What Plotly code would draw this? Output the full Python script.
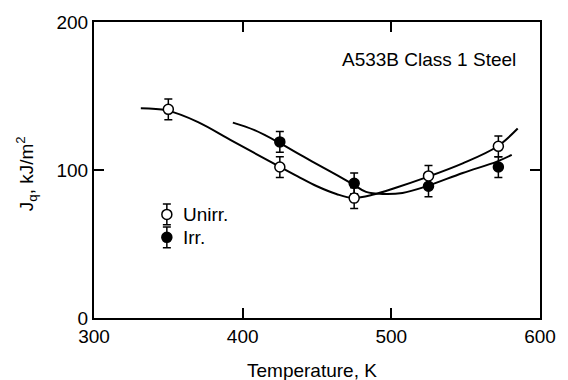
import plotly.graph_objects as go

# Measured data points
unirr_T = [350, 425, 475, 525, 572]
unirr_J = [141, 102, 81, 96, 116]
irr_T = [425, 475, 525, 572]
irr_J = [119, 91, 89, 102]
err = 7

# Fitted curves
unirr_curve_T = [331.5, 349, 370, 392, 414.5, 437, 450, 463, 474, 488, 503, 522, 548, 571, 585]
unirr_curve_J = [141.8, 140.3, 132.4, 120.2, 107.9, 95.7, 89, 83.8, 81.1, 83.4, 88, 94.5, 104.5, 115.7, 128]
irr_curve_T = [393.4, 408, 425, 441, 457, 474, 483, 494.5, 507.5, 523.6, 548, 571, 581]
irr_curve_J = [132, 126.9, 118.2, 109, 100.1, 90.5, 85.2, 83.8, 84.5, 89, 98, 105.7, 110.2]

x_ticks = [300, 400, 500, 600]
y_ticks = [0, 100, 200]

FONT = "Liberation Sans, Arial, Helvetica, sans-serif"
FS = 19
fig = go.Figure()

fig.add_trace(go.Scatter(x=unirr_curve_T, y=unirr_curve_J, mode="lines",
                         line=dict(color="black", width=2, shape="spline", smoothing=1.0),
                         showlegend=False, hoverinfo="skip"))
fig.add_trace(go.Scatter(x=irr_curve_T, y=irr_curve_J, mode="lines",
                         line=dict(color="black", width=2, shape="spline", smoothing=1.0),
                         showlegend=False, hoverinfo="skip"))

fig.add_trace(go.Scatter(x=irr_T, y=irr_J, mode="markers",
                         marker=dict(size=10, color="black", line=dict(color="black", width=1.5)),
                         error_y=dict(type="constant", value=err, color="black", thickness=1.5, width=4),
                         showlegend=False))
fig.add_trace(go.Scatter(x=unirr_T, y=unirr_J, mode="markers",
                         marker=dict(size=10, color="white", line=dict(color="black", width=1.5)),
                         error_y=dict(type="constant", value=err, color="black", thickness=1.5, width=4),
                         showlegend=False))

# legend symbols
fig.add_trace(go.Scatter(x=[349], y=[70], mode="markers",
                         marker=dict(size=10, color="white", line=dict(color="black", width=1.5)),
                         error_y=dict(type="constant", value=err, color="black", thickness=1.5, width=4),
                         showlegend=False))
fig.add_trace(go.Scatter(x=[349], y=[54.5], mode="markers",
                         marker=dict(size=10, color="black", line=dict(color="black", width=1.5)),
                         error_y=dict(type="constant", value=err, color="black", thickness=1.5, width=4),
                         showlegend=False))

ann_font = dict(family=FONT, size=FS, color="black")
fig.add_annotation(x=0.194, y=(318 - 213) / 299, xref="paper", yref="paper", text="Unirr.",
                   showarrow=False, xanchor="left", yanchor="middle", font=ann_font)
fig.add_annotation(x=0.194, y=(318 - 237) / 299, xref="paper", yref="paper", text="Irr.",
                   showarrow=False, xanchor="left", yanchor="middle", font=ann_font)
fig.add_annotation(x=(347 - 94) / 458, y=(318 - 57) / 299, xref="paper", yref="paper",
                   text="A533B Class 1 Steel", showarrow=False, xanchor="left", yanchor="middle", font=ann_font)
fig.add_annotation(x=(318 - 94) / 458, y=(318 - 371) / 299, xref="paper", yref="paper",
                   text="Temperature, K", showarrow=False, xanchor="center", yanchor="middle", font=ann_font)
fig.add_annotation(x=(25 - 94) / 458, y=(318 - 172) / 299, xref="paper", yref="paper",
                   text="J<sub>q</sub>, kJ/m<sup>2</sup>", textangle=-90, showarrow=False,
                   xanchor="center", yanchor="middle", font=ann_font)

axis_common = dict(showline=True, linecolor="black", linewidth=2, mirror="ticks",
                   ticks="inside", ticklen=10, tickwidth=2, tickcolor="black",
                   showgrid=False, zeroline=False,
                   tickfont=dict(family=FONT, size=FS, color="black"))
fig.update_xaxes(range=[300, 600], tickvals=x_ticks, **axis_common)
fig.update_yaxes(range=[0, 200], tickvals=y_ticks, **axis_common)

fig.update_layout(width=568, height=380, margin=dict(l=94, r=16, t=19, b=62),
                  plot_bgcolor="white", paper_bgcolor="white", showlegend=False)

fig.write_html("out.html")
